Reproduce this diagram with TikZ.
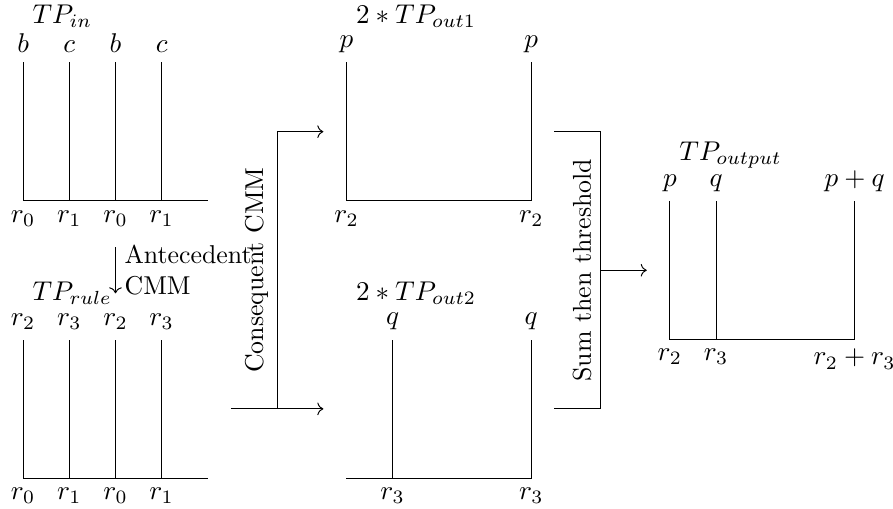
\documentclass[tikz,border=0pt]{standalone}
\usepackage{amsmath,amssymb}
\usetikzlibrary{arrows.meta,positioning,calc}

\begin{document}
\begin{tikzpicture}[
			x=0.6667cm,y=0.6667cm,
			every node/.append style={scale=1.06},
			mlbl/.style={scale=1.05},
			arr/.style={->},
			vlbl/.style={rotate=90,anchor=south}
			]
			\fill[white] (0,-0.65) rectangle (19.33,10.35);
			\useasboundingbox (0,-0.65) rectangle (19.33,10.35);
			% TP_in
			\node[mlbl,right](tpin) at (0.5,10){$TP_{in}$};
			\draw (0.5,6)--(4.5,6);
			\foreach \x/\tl/\bl [count=\i] in {0.5/b/r_0,1.5/c/r_1,2.5/b/r_0,3.5/c/r_1}{
				\draw (\x,6)--(\x,9);
				\node[mlbl,above](inT\i) at (\x,9){$\tl$};
				\node[mlbl,below](inB\i) at (\x,6){$\bl$};
			}
			% TP_rule
			\node[mlbl,right](tprule) at (0.5,4){$TP_{rule}$};
			\draw (0.5,0)--(4.5,0);
			\foreach \x/\tl/\bl [count=\i] in {0.5/r_2/r_0,1.5/r_3/r_1,2.5/r_2/r_0,3.5/r_3/r_1}{
				\draw (\x,0)--(\x,3);
				\node[mlbl,above](ruleT\i) at (\x,3){$\tl$};
				\node[mlbl,below](ruleB\i) at (\x,0){$\bl$};
			}
			% antecedent CMM
			\coordinate (antA) at (2.5,5);
			\coordinate (antB) at (2.5,4);
			\draw[arr](antA)--node[right,align=left](antlbl){Antecedent\\CMM}(antB);
			% consequent CMM
			\coordinate (conIn) at (5,1.5);
			\coordinate (conJoin) at (6,1.5);
			\coordinate (conTop) at (6,7.5);
			\coordinate (conOut1) at (7,7.5);
			\coordinate (conOut2) at (7,1.5);
			\draw[arr](conIn)--(conOut2);
			\draw[arr](conJoin)--(conTop)--(conOut1);
			\node[vlbl](conlbl) at (6,4.5){Consequent CMM};
			% 2*TP_out1
			\node[mlbl,right](tpout1) at (7.5,10){$2*TP_{out1}$};
			\draw (7.5,9)--(7.5,6)--(11.5,6)--(11.5,9);
			\node[mlbl,above](o1T1) at (7.5,9){$p$};
			\node[mlbl,above](o1T2) at (11.5,9){$p$};
			\node[mlbl,below](o1B1) at (7.5,6){$r_2$};
			\node[mlbl,below](o1B2) at (11.5,6){$r_2$};
			% 2*TP_out2
			\node[mlbl,right](tpout2) at (7.5,4){$2*TP_{out2}$};
			\draw (7.5,0)--(11.5,0)--(11.5,3);
			\draw (8.5,0)--(8.5,3);
			\node[mlbl,above](o2T1) at (8.5,3){$q$};
			\node[mlbl,above](o2T2) at (11.5,3){$q$};
			\node[mlbl,below](o2B1) at (8.5,0){$r_3$};
			\node[mlbl,below](o2B2) at (11.5,0){$r_3$};
			% sum then threshold
			\coordinate (sumA) at (12,7.5);
			\coordinate (sumB) at (12,1.5);
			\coordinate (sumMid) at (13,4.5);
			\coordinate (sumOut) at (14,4.5);
			\draw (sumA)-|(sumMid)|-(sumB);
			\draw[arr](sumMid)--(sumOut);
			\node[vlbl](sumlbl) at (sumMid){Sum then threshold};
			% TP_output
			\node[mlbl,right](tpoutput) at (14.5,7){$TP_{output}$};
			\draw (14.5,6)--(14.5,3)--(18.5,3)--(18.5,6);
			\draw (15.5,3)--(15.5,6);
			\node[mlbl,above](outT1) at (14.5,6){$p$};
			\node[mlbl,above](outT2) at (15.5,6){$q$};
			\node[mlbl,above](outT3) at (18.5,6){$p+q$};
			\node[mlbl,below](outB1) at (14.5,3){$r_2$};
			\node[mlbl,below](outB2) at (15.5,3){$r_3$};
			\node[mlbl,below](outB3) at (18.5,3){$r_2+r_3$};
		\end{tikzpicture}
\end{document}
